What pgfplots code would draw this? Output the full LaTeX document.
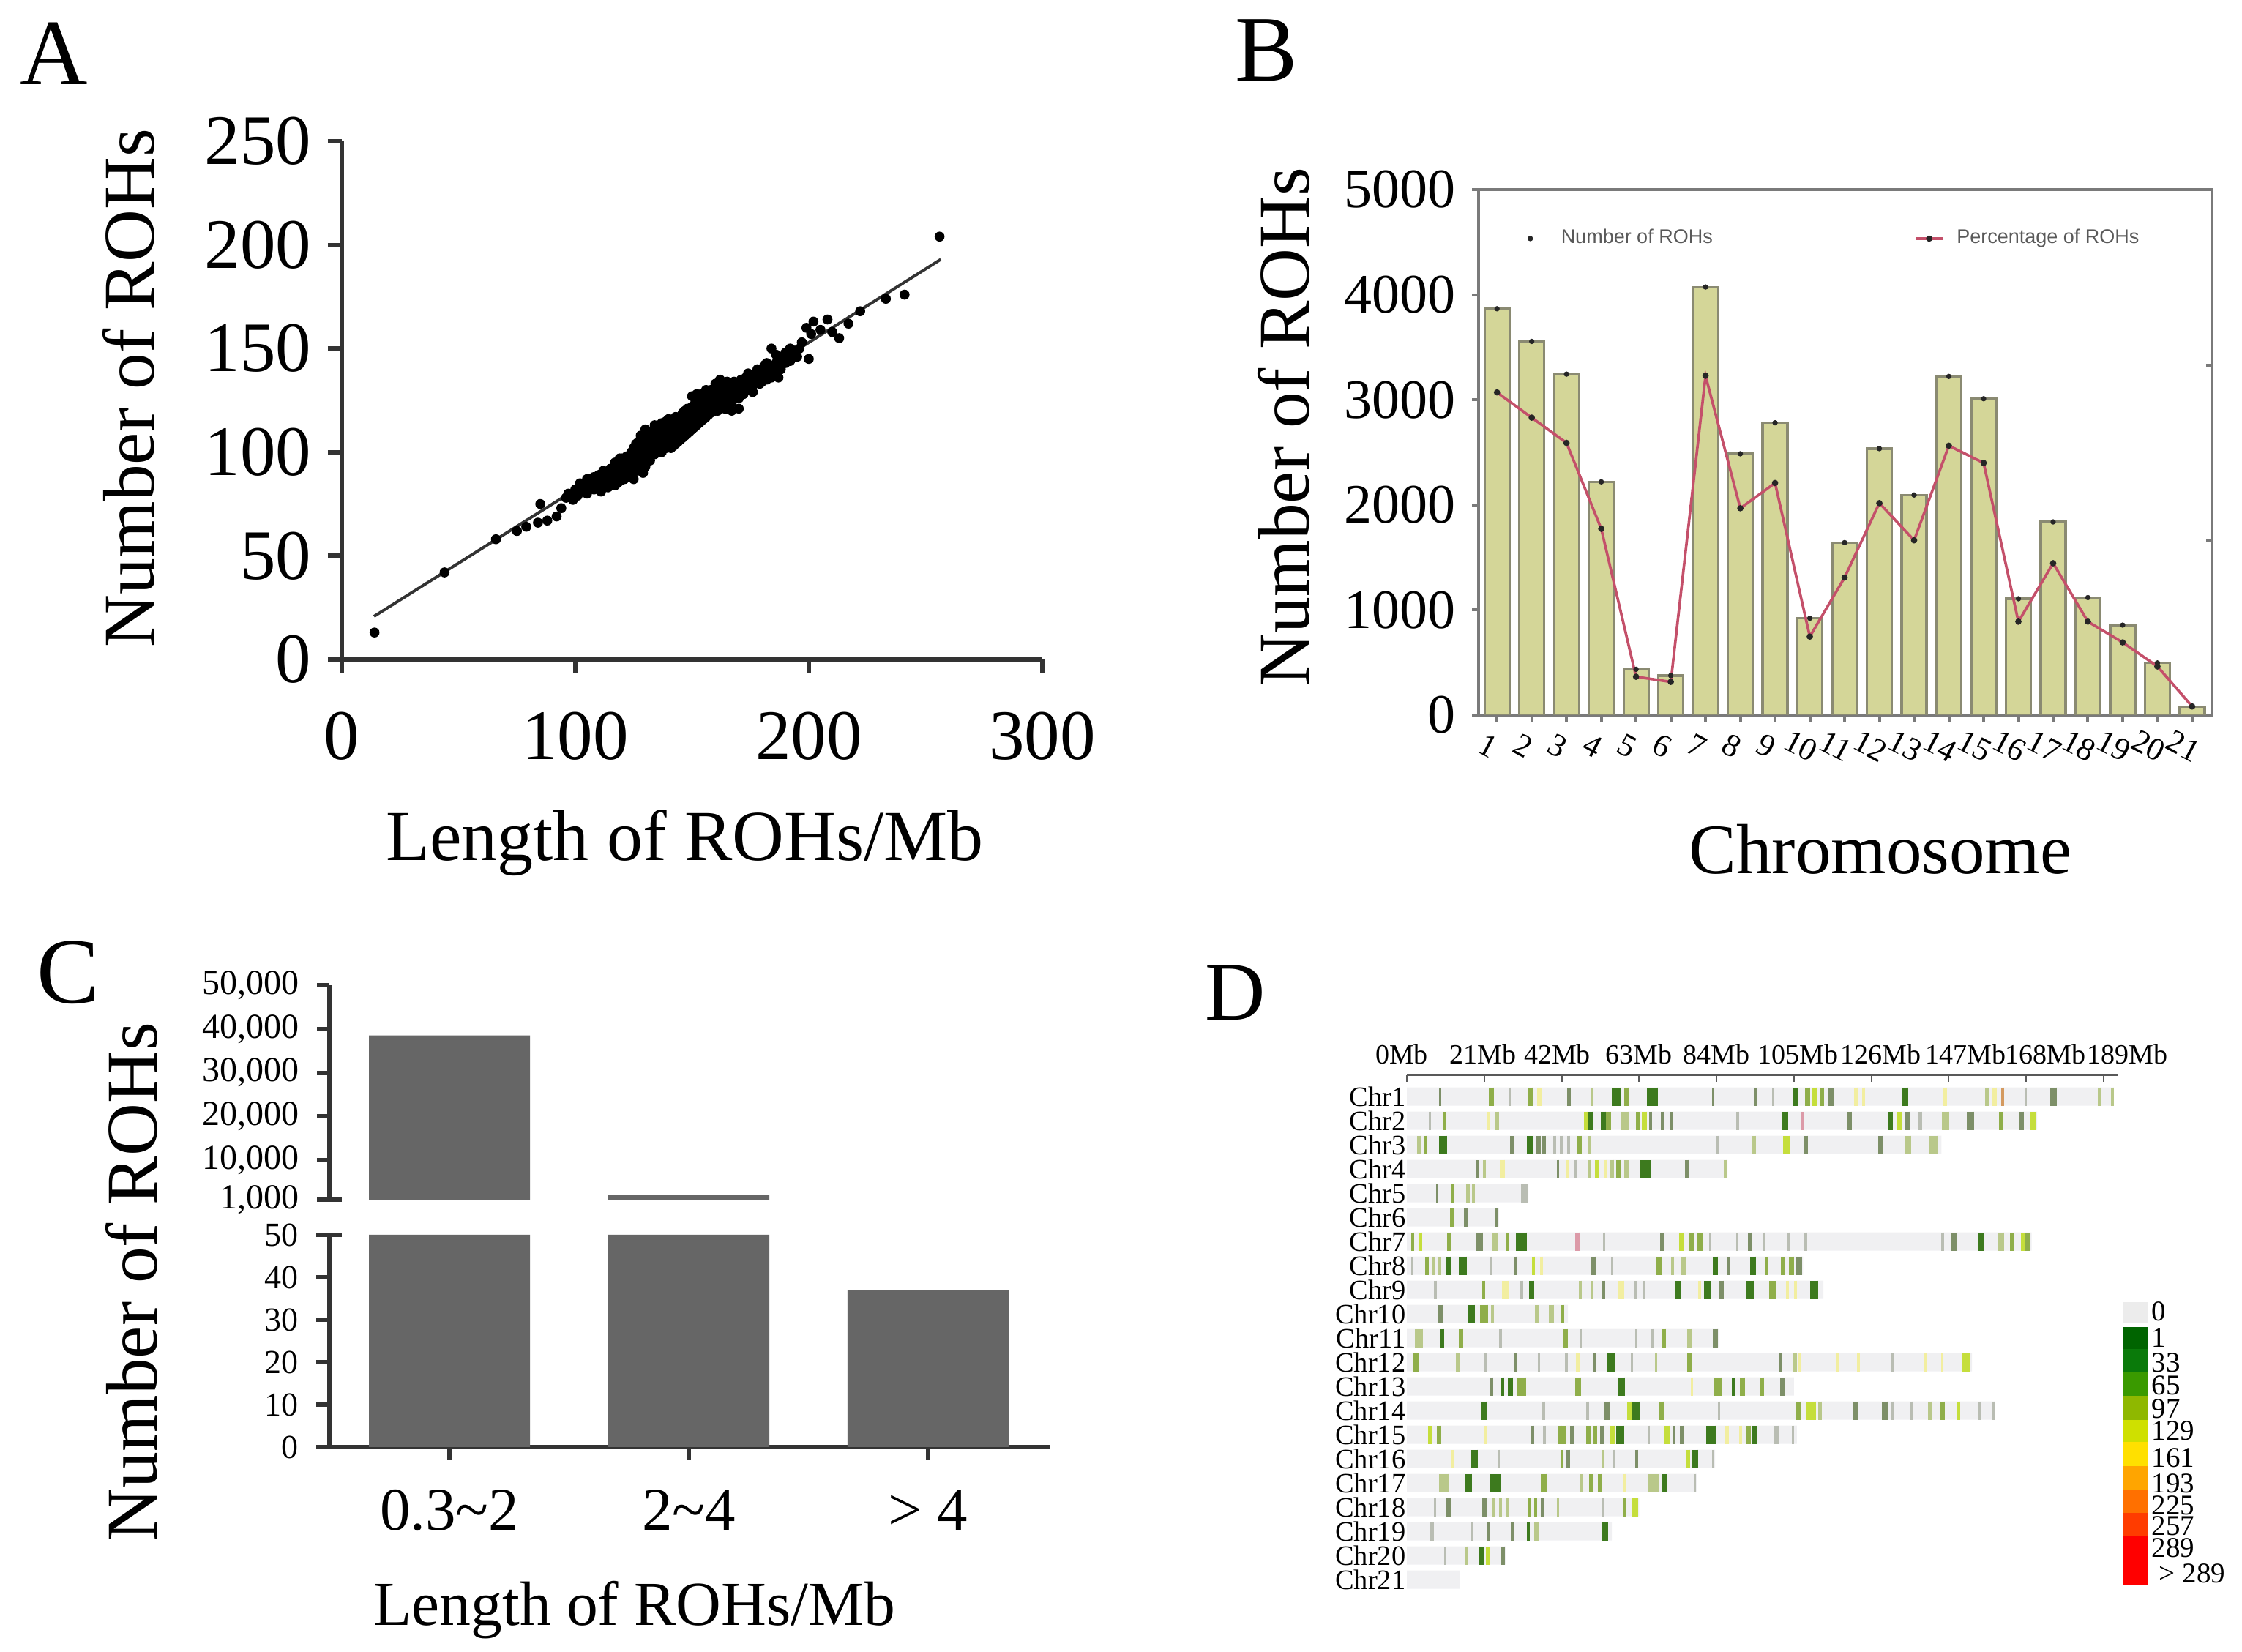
\documentclass[border=0pt]{standalone}
\usepackage{fontspec}
\setmainfont{Liberation Serif}
\newfontfamily\legendsans{Liberation Sans}
\usepackage{pgfplots}
\usepackage{pgfplotstable}
\pgfplotsset{compat=1.18}

% the picture is 3063x2257 px of the reference, at 0.25pt per px
\newcommand{\fs}[1]{\fontsize{#1}{#1}\selectfont}

\definecolor{axdark}{HTML}{333333}
\definecolor{frameB}{HTML}{7A7A7A}
\definecolor{edgeB}{HTML}{8A8A72}
\definecolor{barB}{HTML}{D4D698}
\definecolor{lineB}{HTML}{C4506A}
\definecolor{barC}{HTML}{666666}
\definecolor{trackbg}{HTML}{F0F0F2}
% stripe colours of panel D
\definecolor{st0}{RGB}{185,189,179}
\definecolor{st1}{RGB}{125,143,104}
\definecolor{st2}{RGB}{61,122,30}
\definecolor{st3}{RGB}{143,174,74}
\definecolor{st4}{RGB}{185,200,138}
\definecolor{st5}{RGB}{197,222,60}
\definecolor{st6}{RGB}{242,238,160}
\definecolor{st7}{RGB}{220,154,168}
\definecolor{st8}{RGB}{212,154,96}

\pgfplotsset{
  panel/.style={
    scale only axis,
    axis x line=bottom, axis y line=left,
    axis line style={-, line width=1.5pt, draw=axdark},
    tick style={line width=1.5pt, draw=axdark},
    tick align=outside,
    minor tick num=0,
    scaled ticks=false,
    /pgf/number format/assume math mode=true,
    /pgf/number format/1000 sep={},
    anchor=south west,
  },
}

% panel C: number of ROHs per length class
\pgfplotstableread{
x n
0 38500
1 2000
2 37
}\lenbins

% panel B
\pgfplotstableread{
chr count pct
1 3866 3070
2 3555 2830
3 3244 2590
4 2219 1772
5 436 365
6 376 316
7 4073 3228
8 2486 1968
9 2781 2208
10 921 747
11 1641 1309
12 2535 2017
13 2094 1663
14 3222 2563
15 3010 2399
16 1107 889
17 1838 1445
18 1118 889
19 856 692
20 496 463
21 82 82
}\chrom

% panel D: one stripe per line; pos in Mb, chromosome row, width in px, colour class
\pgfplotstableread{
pos row w c
9.0 1 2 1
23.0 1 6 3
27.8 1 2 0
33.4 1 6 3
36.1 1 6 6
44.0 1 4 1
50.2 1 3 4
56.9 1 12 2
59.6 1 5 3
66.6 1 14 2
83.0 1 2 1
94.6 1 4 1
99.3 1 2 0
105.4 1 7 2
108.8 1 6 3
110.5 1 6 5
112.5 1 5 3
115.0 1 8 1
121.8 1 4 6
123.9 1 3 6
135.2 1 8 2
146.1 1 4 6
157.4 1 5 4
159.5 1 5 6
161.6 1 3 8
167.9 1 2 0
175.5 1 8 1
187.9 1 3 4
191.4 1 3 4
6.2 2 2 0
10.4 2 3 3
22.3 2 3 6
24.5 2 4 4
48.5 2 4 5
49.8 2 6 2
53.4 2 6 2
54.7 2 6 3
59.1 2 10 4
62.7 2 5 3
64.4 2 6 5
66.2 2 3 1
69.3 2 3 1
71.9 2 3 1
89.7 2 3 0
102.5 2 8 2
107.5 2 3 7
120.1 2 5 1
131.2 2 6 2
133.5 2 6 5
135.8 2 5 1
139.1 2 5 0
146.1 2 9 4
152.8 2 9 1
161.2 2 5 3
166.7 2 5 1
169.9 2 7 5
3.3 3 4 4
5.0 3 3 3
9.9 3 10 2
28.5 3 5 1
33.4 3 8 2
35.8 3 5 1
37.2 3 5 1
40.1 3 3 0
41.8 3 3 0
43.8 3 3 0
46.7 3 6 3
49.6 3 3 4
84.2 3 2 0
94.1 3 5 4
102.9 3 8 5
108.3 3 5 1
128.5 3 5 1
136.0 3 8 4
142.8 3 10 4
19.2 4 3 1
21.0 4 3 4
26.0 4 6 6
40.9 4 2 1
43.6 4 3 6
45.8 4 2 0
49.4 4 3 4
51.6 4 5 5
53.8 4 3 6
55.6 4 5 4
57.3 4 5 3
59.6 4 6 4
64.9 4 14 2
76.0 4 4 1
86.4 4 3 4
8.3 5 2 1
12.4 5 4 3
16.6 5 4 4
18.1 5 3 4
31.9 5 8 0
12.4 6 5 3
15.9 6 4 1
24.3 6 3 1
1.5 7 3 3
3.7 7 4 5
11.4 7 4 3
19.7 7 8 1
24.1 7 7 4
27.2 7 4 3
31.0 7 14 2
46.3 7 5 7
53.5 7 2 0
69.3 7 5 1
74.6 7 6 5
77.3 7 6 3
79.5 7 8 3
82.2 7 2 0
89.7 7 2 0
93.1 7 4 1
96.8 7 2 0
103.4 7 3 0
108.3 7 3 0
145.3 7 3 0
148.6 7 7 1
155.8 7 8 2
161.2 7 8 4
164.2 7 5 3
167.1 7 5 5
168.4 7 6 3
1.5 8 2 0
5.5 8 4 3
7.3 8 3 4
9.0 8 3 4
11.25 8 5 2
15.2 8 10 2
22.8 8 2 0
29.4 8 3 1
34.3 8 3 5
36.5 8 3 6
50.7 8 5 1
55.6 8 2 0
68.4 8 6 3
72.0 8 3 4
75.1 8 5 4
83.7 8 6 2
87.3 8 3 1
93.9 8 7 2
97.5 8 4 3
102.1 8 5 3
104.3 8 6 3
106.5 8 7 1
7.7 9 3 0
20.8 9 3 3
26.8 9 8 6
31.0 9 4 0
33.9 9 6 2
47.0 9 3 4
50.2 9 3 4
53.4 9 4 1
58.2 9 7 6
62.2 9 3 0
64.4 9 3 0
73.5 9 8 2
79.5 9 3 6
81.7 9 9 2
85.3 9 5 1
93.1 9 9 2
99.2 9 9 3
103.3 9 3 6
105.4 9 3 6
110.4 9 10 2
9.2 10 5 1
17.5 10 8 2
21.0 10 10 3
23.2 10 3 4
35.4 10 5 4
39.3 10 6 4
42.3 10 3 3
3.3 11 10 4
9.5 11 5 2
14.6 11 5 3
25.4 11 3 0
43.0 11 5 3
47.1 11 2 0
62.2 11 2 0
66.5 11 3 0
69.7 11 5 3
76.7 11 5 4
83.7 11 6 1
2.4 12 6 3
13.9 12 5 4
21.3 12 2 0
29.4 12 3 1
35.8 12 2 0
43.2 12 3 0
46.3 12 4 6
50.9 12 3 1
55.3 12 11 2
61.1 12 2 0
67.7 12 2 4
76.7 12 5 3
101.4 12 3 1
105.4 12 4 4
106.7 12 3 6
116.7 12 3 6
122.6 12 3 6
131.8 12 3 0
140.7 12 3 6
145.3 12 2 6
151.6 12 10 5
23.0 13 3 1
25.9 13 4 2
28.1 13 6 2
31.0 13 12 3
46.5 13 7 3
58.2 13 9 2
77.3 13 2 6
84.4 13 9 3
88.6 13 4 2
91.0 13 6 3
96.3 13 5 3
101.9 13 6 1
21.0 14 6 2
37.2 14 3 0
49.1 14 3 0
54.4 14 6 1
60.4 14 5 5
62.2 14 9 2
68.9 14 6 3
84.6 14 2 0
106.2 14 5 3
109.6 14 12 5
112.1 14 4 4
121.8 14 7 1
129.7 14 7 1
131.8 14 2 0
136.9 14 3 0
141.9 14 4 4
145.3 14 5 3
149.6 14 4 5
155.3 14 2 0
159.1 14 2 0
6.4 15 5 5
8.6 15 4 3
21.3 15 4 6
34.1 15 4 1
37.4 15 3 0
41.4 15 5 3
42.7 15 5 3
44.7 15 4 1
49.4 15 6 3
51.1 15 5 3
52.9 15 4 1
55.6 15 6 5
57.8 15 10 2
65.6 15 2 0
70.6 15 6 5
72.4 15 3 1
74.6 15 4 1
82.4 15 12 2
86.8 15 4 6
90.6 15 3 6
92.8 15 5 3
94.4 15 6 2
100.1 15 6 0
104.8 15 2 0
12.6 16 3 6
18.3 16 8 2
25.0 16 2 0
42.1 16 3 3
43.8 16 4 1
53.4 16 2 4
56.0 16 2 0
62.4 16 3 1
76.4 16 4 5
78.3 16 7 2
83.0 16 2 0
10.1 17 12 4
16.6 17 9 2
24.1 17 14 2
37.1 17 7 3
47.4 17 3 4
50.1 17 5 3
52.3 17 4 3
59.1 17 2 6
67.1 17 14 4
69.9 17 6 2
78.2 17 2 0
7.7 18 2 0
11.25 18 5 1
21.0 18 5 1
23.7 18 3 4
25.4 18 3 4
27.2 18 3 4
33.2 18 3 3
34.9 18 3 3
36.8 18 4 1
40.9 18 2 4
53.4 18 2 0
59.1 18 4 3
62.0 18 7 5
6.8 19 4 0
17.7 19 2 0
22.2 19 2 1
28.5 19 3 1
33.0 19 3 2
35.2 19 6 4
53.8 19 8 2
10.4 20 2 0
16.1 20 2 4
20.3 20 7 2
22.1 20 5 5
26.0 20 5 1
}\stripes

\begin{document}
\begin{tikzpicture}
\path[use as bounding box] (0,0) rectangle (765.75pt,564.25pt);

% ---- A
\node[font=\fs{32}] at (18.5pt,546pt) {A};
\begin{axis}[panel,
  at={(116.75pt,339pt)},
  width=239.25pt, height=177pt,
  xmin=0, xmax=300, ymin=0, ymax=250,
  xtick={0,100,200,300}, ytick={0,50,100,150,200,250},
  major tick length=4.75pt,
  tick label style={font=\fs{24.25}},
  xticklabel style={inner sep=13pt},
  yticklabel style={inner sep=5.5pt},
  xlabel={Length of ROHs/Mb}, ylabel={Number of ROHs},
  xlabel style={at={(axis description cs:.4895,-.3545)},anchor=center,font=\fs{24.5}},
  ylabel style={at={(axis description cs:-.304,.524)},anchor=center,font=\fs{24.9}},
]
\addplot[only marks, mark=*, mark size=1.5pt, black] coordinates {
(14,13) (44,42) (66,58) (75,62) (79,64) (84,66) (85,75) (88,67) (92,69) (94,73)
(96,78) (97,80) (99,77) (100,82) (101,79) (102,85) (103,81) (104,84) (105,80) (105,87)
(106,83) (107,85) (108,82) (108,88) (109,86) (110,84) (110,89) (111,81) (112,87) (112,91)
(113,85) (114,83) (114,89) (115,92) (116,86) (116,90) (117,84) (117,95) (118,88) (118,92)
(119,86) (119,97) (120,90) (120,94) (121,87) (122,92) (122,98) (123,89) (123,96) (124,91)
(124,100) (125,87) (125,94) (126,97) (126,104) (127,92) (127,100) (128,95) (128,108) (129,90)
(129,98) (130,93) (130,103) (130,111) (131,96) (132,100) (132,106) (133,104) (133,99) (134,103)
(134,110) (135,106) (135,107) (136,101) (136,113) (137,110) (137,105) (138,102) (138,109) (139,112)
(139,115) (140,104) (140,111) (141,112) (141,107) (142,103) (142,113) (143,115) (143,109) (144,105)
(144,116) (145,117) (145,112) (146,107) (146,119) (147,120) (147,114) (148,109) (148,121) (149,119)
(149,117) (150,111) (150,127) (151,121) (151,119) (152,113) (152,124) (153,123) (153,121) (154,115)
(154,128) (155,125) (155,122) (156,117) (156,126) (157,127) (157,124) (158,119) (158,130) (159,121)
(159,126) (160,124) (160,133) (161,120) (161,127) (162,123) (162,135) (163,129) (164,125) (165,121)
(165,131) (166,128) (167,124) (168,130) (169,127) (170,121) (171,129) (172,133) (173,130) (174,138)
(175,133) (176,129) (177,136) (178,140) (179,133) (180,137) (181,142) (182,135) (183,139) (184,150)
(185,141) (186,138) (187,144) (187,136) (188,146) (189,143) (190,148) (191,145) (192,147) (194,149)
(195,146) (197,153) (200,145) (199,160) (201,157) (202,163) (205,159) (208,164) (210,158) (213,155)
(217,162) (222,168) (233,174) (241,176) (256,204)
(106,87) (108,85) (110,86) (112,84) (113,89) (115,88) (116,84) (117,91) (118,85) (119,92)
(120,87) (120,97) (121,91) (122,95) (123,93) (124,88) (124,96) (125,98) (125,102) (126,91)
(126,100) (127,96) (127,105) (128,91) (128,99) (128,103) (129,94) (129,102) (129,107) (130,96)
(130,100) (131,103) (131,101) (131,106) (132,96) (132,103) (132,110) (133,102) (133,107) (134,108)
(134,99) (134,113) (135,100) (135,104) (135,111) (136,110) (136,105) (136,109) (137,100) (137,108)
(137,114) (138,105) (138,112) (139,102) (139,106) (139,110) (140,113) (140,107) (140,116) (141,102)
(141,110) (141,114) (142,107) (142,110) (143,104) (143,113) (143,117) (144,114) (144,109) (144,112)
(145,106) (145,115) (146,118) (146,111) (146,115) (147,108) (147,118) (148,119) (148,113) (148,117)
(149,110) (149,121) (150,122) (150,115) (150,120) (151,112) (151,116) (151,123) (152,122) (152,118)
(152,128) (153,114) (153,117) (153,125) (154,126) (154,120) (154,124) (155,116) (155,119) (155,126)
(156,125) (156,121) (156,130) (157,118) (157,121) (157,128) (158,128) (158,123) (158,126) (159,124)
(159,129) (160,131) (160,120) (160,128) (161,123) (161,131) (162,132) (162,127) (162,130) (163,122)
(163,125) (163,133) (164,121) (164,129) (165,125) (165,128) (166,122) (166,132) (167,128) (167,120)
(165,134) (168,134) (170,126) (170,133) (171,135) (172,128) (173,136) (174,130) (174,134) (176,132)
(176,137) (178,134) (178,137) (180,134) (180,140) (182,138) (182,143) (184,136) (184,141) (186,143)
(186,147) (188,140) (190,143) (192,144) (192,150) (194,146) (196,150)
};
\addplot[line width=1pt, axdark] coordinates {(13.8,20.8) (256.5,193)};
\end{axis}

% ---- B
\node[font=\fs{32}] at (432.5pt,547pt) {B};
\begin{axis}[
  scale only axis, anchor=south west,
  at={(505pt,320pt)},
  width=250.5pt, height=179.5pt,
  xmin=0.47, xmax=21.57, ymin=0, ymax=5000,
  xtick={1,...,21}, ytick={0,1000,2000,3000,4000,5000},
  axis line style={line width=1pt, draw=frameB},
  tick style={line width=1pt, draw=frameB},
  tick align=outside, major tick length=2.25pt,
  xtick pos=bottom, ytick pos=left,
  scaled ticks=false,
  /pgf/number format/assume math mode=true,
  /pgf/number format/1000 sep={},
  yticklabel style={font=\fs{19},inner sep=5.5pt},
  xticklabel style={font=\fs{11},rotate=-28,anchor=center,yshift=-8.75pt,xshift=1.25pt},
  xlabel={Chromosome}, ylabel={Number of ROHs},
  xlabel style={at={(axis description cs:.548,-.2549)},anchor=center,font=\fs{24.25}},
  ylabel style={at={(axis description cs:-.2655,.5487)},anchor=center,font=\fs{24.9}},
  legend columns=2,
  legend cell align=left,
  legend style={draw=none, fill=none, inner sep=0pt, anchor=west,
    at={(axis description cs:.067,.9067)},
    font=\legendsans\fs{6.75}, text=black!65,
    /tikz/column 1/.style={column sep=7.8pt},
    /tikz/column 2/.style={column sep=67pt},
    /tikz/column 3/.style={column sep=2.5pt}},
  legend image code/.code={\draw[mark repeat=2,mark phase=2,#1] plot coordinates {(0pt,0pt) (4.5pt,0pt) (9pt,0pt)};},
]
\addplot[ybar, bar width=8.5pt, fill=barB, draw=edgeB, line width=0.8pt, forget plot] table[x=chr,y=count] {\chrom};
\addplot[only marks, mark=*, mark size=0.7pt, black!85] table[x=chr,y=count] {\chrom};
\addlegendentry{Number of ROHs}
\addplot[lineB, line width=0.9pt, mark=*, mark size=0.6pt, mark options={black!85,fill=black!85}] table[x=chr,y=pct] {\chrom};
\addlegendentry{Percentage of ROHs}
\end{axis}
% small ticks on the unlabelled right-hand scale
\begin{axis}[
  scale only axis, anchor=south west,
  at={(505pt,320pt)},
  width=250.5pt, height=179.5pt,
  xmin=0.47, xmax=21.57, ymin=0, ymax=5000,
  axis x line=none, axis y line*=right,
  axis line style={-, line width=1pt, draw=frameB},
  tick style={line width=1pt, draw=frameB},
  tick align=inside, major tick length=2pt,
  ytick={1663,3326}, yticklabels={},
]
\end{axis}

% ---- C
\node[font=\fs{32}] at (23.25pt,232pt) {C};
\begin{axis}[panel,
  at={(112.5pt,154.5pt)},
  width=246pt, height=73.25pt,
  axis x line=none,
  xmin=-0.502, xmax=2.508, ymin=1000, ymax=50000,
  ytick={1000,10000,20000,30000,40000,50000},
  /pgf/number format/1000 sep={,},
  major tick length=4.25pt,
  yticklabel style={font=\fs{12},inner sep=6pt},
  extra y ticks={1000}, extra y tick labels={},
  extra y tick style={tick align=center, major tick length=8.5pt},
]
\addplot[ybar, bar width=55pt, fill=barC, draw=none, restrict y to domain=1000:100000] table[x=x,y=n] {\lenbins};
\end{axis}
\begin{axis}[panel,
  at={(112.5pt,70pt)},
  width=246pt, height=72.5pt,
  xmin=-0.502, xmax=2.508, ymin=0, ymax=50,
  xtick={0,1,2}, xticklabels={0.3\textasciitilde 2,2\textasciitilde 4,> 4},
  ytick={0,10,20,30,40,50},
  major tick length=4.5pt,
  xticklabel style={font=\fs{20.75},inner sep=10pt},
  yticklabel style={font=\fs{11.5},inner sep=6pt},
  extra y ticks={50}, extra y tick labels={},
  extra y tick style={tick align=center, major tick length=8.5pt},
  xlabel={Length of ROHs/Mb}, ylabel={Number of ROHs},
  xlabel style={at={(axis description cs:.4238,-.769)},anchor=center,font=\fs{21.4}},
  ylabel style={at={(axis description cs:-.2744,.779)},anchor=center,font=\fs{24.9}},
]
\addplot[ybar, bar width=55pt, fill=barC, draw=none, restrict y to domain*=0:50] table[x=x,y=n] {\lenbins};
\end{axis}

% ---- D
\node[font=\fs{28.5}] at (422pt,225.25pt) {D};
\begin{axis}[
  scale only axis, anchor=south west,
  at={(480.5pt,19.75pt)},
  width=243pt, height=177.25pt,
  xmin=0, xmax=193, ymin=0.121, ymax=21.6, y dir=reverse,
  axis x line*=top, axis y line*=left,
  x axis line style={-, line width=0.7pt, draw=black!65},
  y axis line style={draw=none},
  xtick style={line width=0.5pt, draw=black!65},
  ytick style={draw=none},
  tick align=inside, major tick length=2.25pt,
  xtick={0,21,42,63,84,105,126,147,168,189},
  % the labels in the reference drift to the right of their ticks
  xticklabels={0Mb\hspace*{3.5pt},21Mb\hspace*{1pt},42Mb\hspace*{3pt},63Mb,84Mb,
    \hspace*{3pt}105Mb,\hspace*{6.5pt}126Mb,\hspace*{11.5pt}147Mb,\hspace*{13pt}168Mb,\hspace*{16.5pt}189Mb},
  ytick={1,...,21},
  yticklabels={Chr1,Chr2,Chr3,Chr4,Chr5,Chr6,Chr7,Chr8,Chr9,Chr10,Chr11,Chr12,Chr13,Chr14,Chr15,Chr16,Chr17,Chr18,Chr19,Chr20,Chr21},
  xticklabel style={font=\fs{9.5},inner sep=3.5pt},
  yticklabel style={font=\fs{9.6},inner sep=0.25pt},
]
\addplot[xbar, bar width=6.25pt, bar shift=0pt, fill=trackbg, draw=none] coordinates {
(191.8,1) (171,2) (145,3) (87,4) (33,5) (25,6) (169.5,7) (107.5,8) (113,9) (43.7,10) (84.8,11)
(153.3,12) (105,13) (159.6,14) (105.8,15) (83.6,16) (78.8,17) (63,18) (55.6,19) (26.8,20) (14.3,21)
};
\pgfplotstablegetrowsof{\stripes}
\pgfmathtruncatemacro{\laststripe}{\pgfplotsretval-1}
\pgfplotsforeachungrouped \i in {0,...,\laststripe}{
  \pgfplotstablegetelem{\i}{pos}\of{\stripes}\edef\stpos{\pgfplotsretval}
  \pgfplotstablegetelem{\i}{row}\of{\stripes}\edef\strow{\pgfplotsretval}
  \pgfplotstablegetelem{\i}{w}\of{\stripes}\edef\stw{\pgfplotsretval}
  \pgfplotstablegetelem{\i}{c}\of{\stripes}\edef\stc{\pgfplotsretval}
  \edef\doit{\noexpand\addplot[only marks, forget plot, mark=|, mark size=3.125pt,
    mark options={line width=(\stw+1)*0.25pt, draw=st\stc}] coordinates {(\stpos,\strow)};}
  \doit
}
\end{axis}

% colour key of panel D
\begin{axis}[
  scale only axis, anchor=south west,
  at={(725.25pt,23pt)},
  width=8.5pt, height=96.25pt,
  xmin=-0.5, xmax=0.5, ymin=0, ymax=385,
  ybar stacked, bar width=8.5pt,
  axis x line=none, axis y line*=right,
  y axis line style={draw=none},
  ytick style={draw=none},
  ytick={15,50,80,108,138,173,210,240,272,303,337,373},
  yticklabels={\hspace*{2.5pt}> 289,289,257,225,193,161,129,97,65,33,1,0},
  yticklabel style={font=\fs{9.75},anchor=west,inner sep=0pt,xshift=1pt},
]
\addplot[fill={rgb,255:red,255;green,0;blue,0},draw=none] coordinates {(0,67)};
\addplot[fill={rgb,255:red,255;green,60;blue,0},draw=none] coordinates {(0,31)};
\addplot[fill={rgb,255:red,255;green,112;blue,0},draw=none] coordinates {(0,32)};
\addplot[fill={rgb,255:red,255;green,165;blue,0},draw=none] coordinates {(0,32)};
\addplot[fill={rgb,255:red,255;green,224;blue,0},draw=none] coordinates {(0,33)};
\addplot[fill={rgb,255:red,207;green,224;blue,0},draw=none] coordinates {(0,30)};
\addplot[fill={rgb,255:red,143;green,184;blue,0},draw=none] coordinates {(0,33)};
\addplot[fill={rgb,255:red,58;green,154;blue,0},draw=none] coordinates {(0,32)};
\addplot[fill={rgb,255:red,10;green,122;blue,10},draw=none] coordinates {(0,32)};
\addplot[fill={rgb,255:red,0;green,100;blue,0},draw=none] coordinates {(0,30)};
\addplot[fill=none,draw=none] coordinates {(0,5)};
\addplot[fill={rgb,255:red,236;green,236;blue,236},draw=none] coordinates {(0,30)};
\end{axis}
\end{tikzpicture}
\end{document}
